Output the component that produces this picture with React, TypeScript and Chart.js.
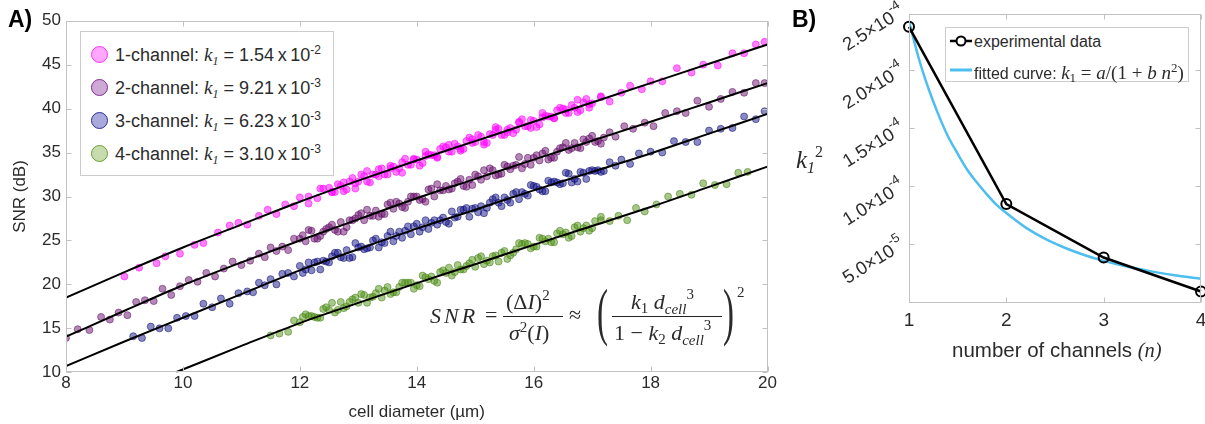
import React, { useEffect, useRef } from 'react';
import { Chart, registerables } from 'chart.js';
Chart.register(...registerables);

// ================= Panel A data: SNR (dB) vs cell diameter (µm) =================
const seriesNames = ['1-channel', '2-channel', '3-channel', '4-channel'];
const k1Mantissa = ['1.54', '9.21', '6.23', '3.10'];
const k1Exponent = ['-2', '-3', '-3', '-3'];

const ch1X = [9.0, 9.25, 9.55, 9.7, 9.95, 10.2, 10.35, 10.6, 10.8, 10.95, 11.1, 11.3, 11.45, 11.6, 11.75, 11.9, 12.0, 12.15, 12.3, 12.4,
  12.5, 12.6, 12.7, 12.8, 12.9, 13.0, 13.1, 13.2, 13.3, 13.4, 13.5, 13.6, 13.7, 13.8, 13.9, 14.0, 14.1, 14.2, 14.3, 14.4,
  14.5, 14.6, 14.7, 14.8, 14.9, 15.0, 15.1, 15.2, 15.3, 15.4, 15.5, 15.6, 15.7, 15.8, 15.9, 16.0, 16.1, 16.2, 16.3, 16.4,
  16.5, 16.6, 16.7, 16.8, 16.9, 17.0,
  17.15, 17.3, 17.5, 17.65, 17.85, 18.0, 18.2, 18.45, 18.7, 18.9, 19.15, 19.4, 19.6, 19.8, 19.95];
const ch1Y = [20.9, 21.9, 22.4, 23.2, 23.5, 24.5, 24.7, 25.9, 26.7, 27.0, 26.8, 27.8, 28.5, 28.0, 29.1, 28.9, 29.9, 30.0, 29.8, 30.9,
  31.0, 30.5, 31.2, 30.8, 32.1, 31.7, 32.3, 31.6, 32.5, 33.2, 32.5, 33.4, 33.2, 34.3, 33.6, 34.2, 33.8, 34.8, 34.7, 35.4,
  35.6, 35.1, 35.7, 35.4, 36.7, 36.2, 36.8, 36.1, 37.0, 37.7, 37.0, 37.8, 37.6, 38.8, 38.0, 38.6, 38.2, 39.2, 39.1, 39.8,
  40.0, 39.5, 40.1, 39.8, 41.1, 40.6,
  41.3, 40.8, 41.8, 42.6, 42.2, 43.1, 43.1, 44.6, 44.1, 45.0, 44.9, 46.3, 46.3, 47.3, 47.6];
const ch1XB = [12.55, 12.65, 12.75, 12.85, 12.95, 13.05, 13.15, 13.25, 13.35, 13.45, 13.55, 13.65, 13.75, 13.85, 13.95,
  14.05, 14.15, 14.25, 14.35, 14.45, 14.55, 14.65, 14.75, 14.85, 14.95, 15.05, 15.15, 15.25, 15.35, 15.45,
  15.55, 15.65, 15.75, 15.85, 15.95, 16.05, 16.15, 16.25, 16.35, 16.45, 16.55, 16.65, 16.75, 16.85, 16.95];
const ch1YB = [30.5, 31.4, 30.6, 31.7, 31.5, 32.5, 31.7, 32.5, 33.1, 32.5, 33.2, 32.8, 33.9, 33.6, 34.3,
  33.5, 34.6, 34.7, 34.5, 35.7, 35.1, 36.0, 35.2, 36.3, 36.1, 37.0, 36.2, 37.1, 37.6, 37.0,
  37.6, 37.2, 38.4, 38.0, 38.7, 37.9, 39.0, 39.1, 38.9, 40.1, 39.5, 40.4, 39.6, 40.7, 40.5];

// third pass of readings through the dense middle of every band
const denseXC = [12.15, 12.35, 12.55, 12.75, 12.95, 13.15, 13.35, 13.55, 13.75, 13.95, 14.15, 14.35, 14.55, 14.75, 14.95,
  15.15, 15.35, 15.55, 15.75, 15.95, 16.15, 16.35, 16.55, 16.75, 16.95, 17.15];
const ch1YC = [29.2, 30.9, 30.5, 31.6, 30.9, 32.9, 32.3, 33.5, 32.7, 34.2, 35.1, 34.4, 35.9, 35.4, 36.5,
  35.9, 37.9, 37.3, 38.5, 37.8, 39.5, 38.9, 39.9, 41.0, 40.1, 41.4];

const ch2X = [8.0, 8.2, 8.4, 8.6, 8.75, 8.9, 9.05, 9.2, 9.35, 9.5, 9.65, 9.8, 9.95, 10.1, 10.25, 10.4, 10.55, 10.7, 10.85, 11.0, 11.15, 11.3,
  11.4, 11.5, 11.6, 11.7, 11.8, 11.9, 12.0, 12.1, 12.2, 12.3, 12.4, 12.5, 12.6, 12.7, 12.8, 12.9,
  13.0, 13.1, 13.2, 13.3, 13.4, 13.5, 13.6, 13.7, 13.8, 13.9, 14.0, 14.1, 14.2, 14.3, 14.4, 14.5, 14.6, 14.7, 14.8, 14.9,
  15.0, 15.1, 15.2, 15.3, 15.4, 15.5, 15.6, 15.7, 15.8, 15.9, 16.0, 16.1, 16.2, 16.3, 16.4, 16.5, 16.6, 16.7, 16.8, 16.9,
  17.0, 17.1, 17.2, 17.3, 17.4,
  17.55, 17.7, 17.9, 18.05, 18.25, 18.45, 18.6, 18.8, 19.0, 19.2, 19.4, 19.6, 19.8, 19.95];
const ch2Y = [13.9, 14.9, 14.8, 16.3, 16.0, 16.8, 16.5, 18.0, 18.2, 18.1, 19.5, 18.8, 19.8, 20.5, 20.3, 21.3, 20.9, 21.8, 22.6, 22.2, 22.7, 23.5,
  23.1, 24.2, 23.8, 24.3, 23.9, 25.2, 25.2, 24.9, 26.1, 25.2, 26.0, 26.5, 26.2, 27.1, 26.5, 27.3,
  27.9, 27.3, 27.8, 28.4, 28.0, 29.1, 28.6, 29.2, 28.7, 30.0, 30.0, 29.7, 30.8, 30.0, 30.7, 31.2, 30.9, 31.7, 31.2, 31.9,
  32.5, 31.9, 32.3, 33.0, 32.5, 33.6, 33.1, 33.6, 33.2, 34.4, 34.4, 34.1, 35.2, 34.4, 35.1, 35.6, 35.3, 36.1, 35.5, 36.2,
  36.9, 36.3, 36.7, 37.3, 36.8,
  38.0, 37.7, 38.4, 38.0, 39.5, 39.7, 39.5, 40.9, 40.2, 41.1, 41.9, 41.8, 42.9, 42.9];
const denseXB = [12.05, 12.25, 12.45, 12.65, 12.85, 13.05, 13.25, 13.45, 13.65, 13.85, 14.05, 14.25, 14.45, 14.65, 14.85,
  15.05, 15.25, 15.45, 15.65, 15.85, 16.05, 16.25, 16.45, 16.65, 16.85, 17.05];
const ch2YB = [25.6, 25.2, 26.3, 26.0, 27.3, 28.1, 27.8, 28.0, 29.4, 29.4, 29.6, 30.9, 30.7, 31.5, 31.1,
  32.3, 33.2, 32.6, 33.5, 33.7, 34.7, 34.2, 35.5, 35.5, 36.5, 36.2];
const ch2YC = [26.2, 25.5, 26.8, 26.0, 27.5, 28.5, 27.7, 29.3, 28.8, 30.0, 29.4, 31.4, 30.8, 32.0, 31.3,
  33.0, 32.4, 33.4, 34.5, 33.6, 34.9, 34.4, 36.1, 35.6, 36.6, 36.0];

const ch3X = [9.15, 9.3, 9.45, 9.6, 9.75, 9.9, 10.05, 10.2, 10.35, 10.5, 10.65, 10.8, 10.95,
  11.1, 11.2, 11.3, 11.4, 11.5, 11.6, 11.7, 11.8, 11.9,
  12.0, 12.1, 12.2, 12.3, 12.4, 12.5, 12.6, 12.7, 12.8, 12.9, 13.0, 13.1, 13.2, 13.3, 13.4, 13.5, 13.6, 13.7, 13.8, 13.9,
  14.0, 14.1, 14.2, 14.3, 14.4, 14.5, 14.6, 14.7, 14.8, 14.9, 15.0, 15.1, 15.2, 15.3, 15.4, 15.5, 15.6, 15.7, 15.8, 15.9,
  16.0, 16.1, 16.2, 16.3, 16.4, 16.5, 16.6, 16.7, 16.8, 16.9, 17.0, 17.1, 17.2, 17.3, 17.4, 17.5,
  17.65, 17.8, 18.0, 18.2, 18.4, 18.6, 18.8, 19.0, 19.2, 19.4, 19.6, 19.8, 19.95];
const ch3Y = [14.1, 13.9, 15.2, 15.0, 15.0, 16.2, 16.4, 16.4, 17.8, 17.4, 18.4, 17.8, 19.0,
  19.2, 19.1, 20.2, 19.9, 20.6, 20.0, 21.2, 21.3, 20.9,
  22.1, 21.7, 21.6, 22.6, 22.7, 22.5, 23.6, 23.1, 23.9, 23.1, 24.2, 24.0, 24.2, 25.2, 24.8, 25.5, 24.9, 26.0, 26.1, 25.7,
  26.9, 26.5, 26.3, 27.3, 27.3, 27.1, 28.3, 27.7, 28.5, 27.7, 28.7, 28.9, 28.7, 29.7, 29.3, 29.9, 29.3, 30.5, 30.5, 30.1,
  31.2, 30.8, 30.6, 31.6, 31.6, 31.5, 32.6, 32.0, 32.8, 32.0, 33.0, 33.0, 32.9, 33.9, 33.5, 34.2,
  33.7, 34.9, 35.1, 35.0, 36.3, 36.2, 36.2, 37.5, 37.7, 37.8, 39.1, 38.8, 39.7];
const ch3YB = [21.3, 22.5, 22.6, 23.6, 23.0, 24.3, 25.0, 24.7, 25.5, 26.6, 26.0, 27.0, 27.6, 27.6, 28.7,
  28.2, 29.3, 28.9, 30.3, 30.3, 31.1, 31.8, 31.4, 31.6, 32.7, 32.9];
const ch3YC = [22.5, 21.7, 23.2, 23.0, 24.7, 24.1, 24.2, 26.0, 25.3, 26.6, 27.3, 26.8, 26.9, 28.5, 28.6,
  28.1, 29.9, 29.6, 29.7, 31.3, 30.6, 31.7, 32.7, 31.7, 32.9, 32.8];

const ch4X = [11.5, 11.65, 11.8, 11.9,
  12.0, 12.1, 12.2, 12.3, 12.4, 12.5, 12.6, 12.7, 12.8, 12.9, 13.0, 13.1, 13.2, 13.3, 13.4, 13.5, 13.6, 13.7, 13.8, 13.9,
  14.0, 14.1, 14.2, 14.3, 14.4, 14.5, 14.6, 14.7, 14.8, 14.9, 15.0, 15.1, 15.2, 15.3, 15.4, 15.5, 15.6, 15.7, 15.8, 15.9,
  16.0, 16.1, 16.2, 16.3, 16.4, 16.5, 16.6, 16.7, 16.8, 16.9, 17.0,
  17.15, 17.3, 17.45, 17.6, 17.75, 17.9, 18.1, 18.3, 18.5, 18.7, 18.9, 19.1, 19.3, 19.5, 19.66];
const ch4Y = [14.2, 14.4, 14.6, 15.9,
  15.7, 16.6, 16.4, 16.2, 17.2, 17.1, 16.8, 18.0, 17.5, 18.3, 17.9, 18.8, 18.5, 19.0, 18.5, 19.7, 19.1, 19.7, 20.2, 20.2,
  19.9, 21.0, 20.6, 20.4, 21.4, 21.3, 21.0, 22.2, 21.7, 22.4, 22.0, 23.2, 22.7, 23.2, 22.6, 23.8, 23.3, 24.0, 24.6, 24.6,
  24.3, 25.3, 24.9, 24.8, 25.8, 25.7, 25.3, 26.5, 26.0, 26.7, 26.4,
  27.7, 27.2, 27.8, 27.3, 28.7, 28.3, 29.1, 30.0, 30.3, 30.2, 31.5, 31.3, 31.4, 32.7, 32.8];
const ch4YB = [16.3, 16.3, 17.4, 17.1, 18.0, 18.9, 18.6, 19.3, 19.1, 20.2, 19.8, 20.9, 21.6, 21.4, 22.1,
  23.0, 22.5, 23.6, 23.6, 24.7, 24.3, 25.2, 26.1, 25.5, 26.4, 27.2];
const ch4YC = [16.4, 16.2, 17.9, 17.3, 18.5, 17.9, 19.5, 18.9, 20.2, 19.5, 20.8, 20.2, 21.9, 21.7, 22.8,
  22.3, 23.3, 22.9, 24.7, 24.1, 25.2, 24.8, 25.9, 26.7, 26.1, 27.3];

// fitted model curves (black lines)
const fitX = [8, 9, 10, 11, 12, 13, 14, 15, 16, 17, 18, 19, 20];
const fit1Y = [18.5, 21.4, 24.2, 26.8, 29.4, 31.8, 34.1, 36.3, 38.5, 40.7, 42.9, 45.1, 47.3];
const fit2Y = [14.05, 17.0, 19.9, 22.5, 25.0, 27.4, 29.8, 32.0, 34.2, 36.35, 38.5, 40.7, 42.9];
const fit3Y = [10.7, 13.5, 16.2, 18.9, 21.6, 24.0, 26.35, 28.5, 30.7, 32.8, 34.9, 37.15, 39.4];
const fit4X = [9.88, 11, 12, 13, 14, 15, 16, 17, 18, 19, 20];
const fit4Y = [10.0, 13.0, 15.6, 17.9, 20.15, 22.3, 24.5, 26.65, 28.8, 31.1, 33.4];

// ================= Panel B data: k1^2 vs number of channels =================
const expN = [1, 2, 3, 4];
const expK = [2.37e-4, 8.48e-5, 3.88e-5, 9.6e-6];
const curveN = [1.0, 1.1, 1.2, 1.3, 1.4, 1.5, 1.6, 1.7, 1.8, 1.9, 2.0, 2.2, 2.4, 2.6, 2.8, 3.0, 3.25, 3.5, 3.75, 4.0];
const curveK = [2.42e-4, 2.10e-4, 1.84e-4, 1.62e-4, 1.43e-4, 1.28e-4, 1.14e-4, 1.03e-4, 0.93e-4, 0.84e-4, 0.77e-4,
  0.645e-4, 0.548e-4, 0.472e-4, 0.41e-4, 0.359e-4, 0.308e-4, 0.267e-4, 0.233e-4, 0.206e-4];
const bYTickVals = [5e-5, 1e-4, 1.5e-4, 2e-4, 2.5e-4];
const bYTickMant = ['5.0', '1.0', '1.5', '2.0', '2.5'];
const bYTickExp = ['-5', '-4', '-4', '-4', '-4'];

// ================= styles =================
const SANS = '"Liberation Sans", Arial, Helvetica, sans-serif';
const SERIF = '"Liberation Serif", "Times New Roman", serif';
const TEXT = '#2b2b2b';
const FRAME = '#c2c2c2';
const dotFill = ['rgba(255,0,255,0.5)', 'rgba(105,15,110,0.5)', 'rgba(20,20,135,0.5)', 'rgba(80,145,20,0.5)'];
const dotEdge = ['rgba(255,0,255,0.65)', 'rgba(95,10,100,0.65)', 'rgba(10,10,115,0.65)', 'rgba(65,125,15,0.65)'];
const legFill = ['#ffa6ff', '#cfa9d6', '#a9a9dc', '#c6dcae'];
const legEdge = ['#ff33ff', '#7e2f8e', '#2e2e9e', '#6aa030'];

const zip = (xs: number[], ys: number[]) => xs.map((x, i) => ({ x, y: ys[i] }));

function frameTicks(yValsOverride?: number[]) {
  return {
    id: 'frameTicks',
    afterDraw(chart: any) {
      const { ctx, chartArea: a, scales } = chart;
      const L = Math.round(a.left) + 0.5, R = Math.round(a.right) - 0.5;
      const T = Math.round(a.top) + 0.5, B = Math.round(a.bottom) - 0.5;
      ctx.save();
      ctx.strokeStyle = FRAME;
      ctx.lineWidth = 1;
      ctx.strokeRect(L, T, R - L, B - T);
      const len = 5;
      ctx.beginPath();
      scales.x.ticks.forEach((t: any) => {
        const px = Math.round(scales.x.getPixelForValue(t.value)) + 0.5;
        ctx.moveTo(px, B); ctx.lineTo(px, B - len);
        ctx.moveTo(px, T); ctx.lineTo(px, T + len);
      });
      const yv = yValsOverride || scales.y.ticks.map((t: any) => t.value);
      yv.forEach((v: number) => {
        const py = Math.round(scales.y.getPixelForValue(v)) + 0.5;
        if (py < T - 1) return;
        ctx.moveTo(L, py); ctx.lineTo(L + len, py);
        ctx.moveTo(R, py); ctx.lineTo(R - len, py);
      });
      ctx.stroke();
      ctx.restore();
    },
  };
}

const rotatedYLabels = {
  id: 'rotatedYLabels',
  afterDraw(chart: any) {
    const { ctx, chartArea: a, scales } = chart;
    ctx.save();
    ctx.fillStyle = TEXT;
    bYTickVals.forEach((v, i) => {
      const py = scales.y.getPixelForValue(v);
      ctx.save();
      ctx.translate(a.left - 6, py - 1);
      ctx.rotate((-32 * Math.PI) / 180);
      ctx.textAlign = 'right';
      ctx.textBaseline = 'middle';
      ctx.font = `13px ${SANS}`;
      const ew = ctx.measureText(bYTickExp[i]).width;
      ctx.fillText(bYTickExp[i], 0, -8);
      ctx.font = `18.5px ${SANS}`;
      ctx.fillText(bYTickMant[i] + '\u00d710', -ew, 0);
      ctx.restore();
    });
    ctx.restore();
  },
};

const Sup = ({ children, size, raise }: any) => (
  <span style={{ fontSize: size, verticalAlign: raise, lineHeight: 0 }}>{children}</span>
);
const It = ({ children }: any) => <span style={{ fontStyle: 'italic' }}>{children}</span>;

const At = ({ x, base, size, family, children, style }: any) => (
  <div
    style={{
      position: 'absolute', left: x, top: base - 0.84 * size, fontSize: size, lineHeight: 1,
      fontFamily: family, color: TEXT, whiteSpace: 'nowrap', ...(style || {}),
    }}
  >
    {children}
  </div>
);

export default function App() {
  const refA = useRef<HTMLCanvasElement>(null);
  const refB = useRef<HTMLCanvasElement>(null);

  useEffect(() => {
    const scatterSets = [
      [...zip(ch1X, ch1Y), ...zip(ch1XB, ch1YB), ...zip(denseXC, ch1YC)],
      [...zip(ch2X, ch2Y), ...zip(denseXB, ch2YB), ...zip(denseXC, ch2YC)],
      [...zip(ch3X, ch3Y), ...zip(denseXB, ch3YB), ...zip(denseXC, ch3YC)],
      [...zip(ch4X, ch4Y), ...zip(denseXB, ch4YB), ...zip(denseXC, ch4YC)],
    ];
    const fits = [zip(fitX, fit1Y), zip(fitX, fit2Y), zip(fitX, fit3Y), zip(fit4X, fit4Y)];
    const dsA: any[] = [];
    fits.forEach((d, i) =>
      dsA.push({
        label: 'fit ' + seriesNames[i], data: d, showLine: true, borderColor: '#000', borderWidth: 2,
        pointRadius: 0, cubicInterpolationMode: 'monotone', order: 0,
      })
    );
    scatterSets.forEach((d, i) =>
      dsA.push({
        label: seriesNames[i], data: d, showLine: false, pointRadius: 3.5,
        pointBackgroundColor: dotFill[i], pointBorderColor: dotEdge[i], pointBorderWidth: 0.8, order: 1 + i,
      })
    );

    const chartA = new Chart(refA.current as HTMLCanvasElement, {
      type: 'scatter',
      data: { datasets: dsA },
      options: {
        animation: false, responsive: false, events: [],
        layout: { padding: { left: 0, right: 32.5, top: 20.7, bottom: 0 } },
        plugins: { legend: { display: false }, tooltip: { enabled: false } },
        scales: {
          x: {
            type: 'linear', min: 8, max: 20,
            ticks: { stepSize: 2, color: TEXT, font: { family: SANS, size: 17 }, padding: 1, maxRotation: 0, autoSkip: false },
            grid: { display: false, drawTicks: false }, border: { display: false },
            title: { display: true, text: 'cell diameter (µm)', color: TEXT, font: { family: SANS, size: 17 }, padding: { top: 0, bottom: 1 } },
            afterFit: (s: any) => { s.height = 51.7; },
          },
          y: {
            type: 'linear', min: 10, max: 50,
            ticks: { stepSize: 5, color: TEXT, font: { family: SANS, size: 17 }, padding: 5 },
            grid: { display: false, drawTicks: false }, border: { display: false },
            title: { display: true, text: 'SNR (dB)', color: TEXT, font: { family: SANS, size: 17 }, padding: { top: 10, bottom: 0 } },
            afterFit: (s: any) => { s.width = 66; },
          },
        },
      } as any,
      plugins: [frameTicks()],
    });

    const chartB = new Chart(refB.current as HTMLCanvasElement, {
      type: 'scatter',
      data: {
        datasets: [
          {
            label: 'experimental data', data: zip(expN, expK), showLine: true, borderColor: '#000', borderWidth: 2.5,
            pointRadius: 5, pointBorderWidth: 2, pointBorderColor: '#000', pointBackgroundColor: 'rgba(0,0,0,0)',
            order: 0, clip: false,
          },
          {
            label: 'fitted curve', data: zip(curveN, curveK), showLine: true, borderColor: '#4DBEEE', borderWidth: 2.5,
            pointRadius: 0, cubicInterpolationMode: 'monotone', order: 1,
          },
        ] as any,
      },
      options: {
        animation: false, responsive: false, events: [],
        layout: { padding: { left: 0, right: 24, top: 14, bottom: 0 } },
        plugins: { legend: { display: false }, tooltip: { enabled: false } },
        scales: {
          x: {
            type: 'linear', min: 1, max: 4,
            ticks: { stepSize: 1, color: TEXT, font: { family: SANS, size: 19 }, padding: 7, maxRotation: 0, autoSkip: false },
            grid: { display: false, drawTicks: false }, border: { display: false },
            afterFit: (s: any) => { s.height = 121.3; },
          },
          y: {
            type: 'linear', min: 0, max: 2.48e-4,
            ticks: { display: false, stepSize: 5e-5 },
            grid: { display: false, drawTicks: false }, border: { display: false },
            afterFit: (s: any) => { s.width = 89; },
          },
        },
      } as any,
      plugins: [frameTicks(bYTickVals), rotatedYLabels],
    });

    return () => { chartA.destroy(); chartB.destroy(); };
  }, []);

  const rowY = [54, 87, 120, 153];
  const fs = 22;
  const paren = { transform: 'scale(0.55, 1.05)', transformOrigin: 'left bottom' };

  return (
    <div style={{ position: 'fixed', left: 0, top: 0, width: 1205, height: 424, background: '#fff', overflow: 'hidden' }}>
      <canvas ref={refA} width={800} height={424} style={{ position: 'absolute', left: 0, top: 0, display: 'block' }} />
      <canvas ref={refB} width={405} height={424} style={{ position: 'absolute', left: 820, top: 0, display: 'block' }} />

      {/* panel labels */}
      <At x={8} base={27} size={23} family={SANS} style={{ fontWeight: 'bold', color: '#000' }}>A)</At>
      <At x={792} base={27} size={23} family={SANS} style={{ fontWeight: 'bold', color: '#000' }}>B)</At>

      {/* legend A */}
      <div style={{ position: 'absolute', left: 80, top: 31, width: 254, height: 145, border: '1px solid #cccccc', background: '#fff', boxSizing: 'border-box' }} />
      {seriesNames.map((n, i) => (
        <React.Fragment key={n}>
          <div style={{ position: 'absolute', left: 99 - 8.5, top: rowY[i] - 8.5, width: 17, height: 17, borderRadius: '50%', background: legFill[i], border: `1px solid ${legEdge[i]}`, boxSizing: 'border-box' }} />
          <At x={115} base={rowY[i] + 6.5} size={18} family={SANS}>
            {n + ': '}
            <span style={{ fontFamily: SERIF, fontStyle: 'italic', fontSize: 19 }}>k<Sup size={12} raise={-4}>1</Sup></span>
            {' = ' + k1Mantissa[i] + '\u2009x\u200910'}
            <Sup size={12} raise={7}>{k1Exponent[i]}</Sup>
          </At>
        </React.Fragment>
      ))}

      {/* formula */}
      <At x={430} base={323} size={fs} family={SERIF} style={{ letterSpacing: 3 }}><It>SNR</It></At>
      <At x={485} base={322} size={fs} family={SERIF}>=</At>
      <At x={506} base={309} size={fs} family={SERIF}>(Δ<It>I</It>)<Sup size={15} raise={9}>2</Sup></At>
      <div style={{ position: 'absolute', left: 503, top: 316, width: 60, height: 1.2, background: '#222' }} />
      <At x={509} base={340} size={fs} family={SERIF}><It>σ</It><Sup size={15} raise={8}>2</Sup>(<It>I</It>)</At>
      <At x={569} base={322} size={fs} family={SERIF}>≈</At>
      <At x={597} base={334} size={60} family={SERIF} style={paren}>(</At>
      <At x={631} base={309} size={fs} family={SERIF}>
        <It>k</It><Sup size={15} raise={-4}>1</Sup>{' '}<It>d</It><Sup size={15} raise={-5}><It>cell</It></Sup><Sup size={15} raise={10}>3</Sup>
      </At>
      <div style={{ position: 'absolute', left: 612, top: 316, width: 110, height: 1.2, background: '#222' }} />
      <At x={614} base={340} size={fs} family={SERIF}>
        1 − <It>k</It><Sup size={15} raise={-4}>2</Sup>{' '}<It>d</It><Sup size={15} raise={-5}><It>cell</It></Sup><Sup size={15} raise={10}>3</Sup>
      </At>
      <At x={723} base={334} size={60} family={SERIF} style={paren}>)</At>
      <At x={737} base={298} size={15} family={SERIF}>2</At>

      {/* Panel B axis titles */}
      <At x={796} base={168} size={25} family={SERIF}>
        <It>k</It><Sup size={16} raise={-5}><It>1</It></Sup><Sup size={16} raise={11}>2</Sup>
      </At>
      <At x={952} base={357} size={20.5} family={SANS}>
        number of channels <span style={{ fontFamily: SERIF, fontStyle: 'italic' }}>(n)</span>
      </At>

      {/* legend B */}
      <div style={{ position: 'absolute', left: 945, top: 27, width: 244, height: 55, border: '1px solid #cccccc', background: '#fff', boxSizing: 'border-box' }} />
      <svg width={30} height={60} style={{ position: 'absolute', left: 947, top: 26 }}>
        <line x1={3} y1={15} x2={25} y2={15} stroke="#000" strokeWidth={2.5} />
        <circle cx={14} cy={15} r={4.5} fill="#fff" stroke="#000" strokeWidth={2} />
        <line x1={3} y1={44} x2={25} y2={44} stroke="#4DBEEE" strokeWidth={3} />
      </svg>
      <At x={974} base={47} size={16} family={SANS}>experimental data</At>
      <At x={974} base={76} size={16} family={SANS}>
        fitted curve:{' '}
        <span style={{ fontFamily: SERIF, fontSize: 19 }}>
          <It>k</It><Sup size={13} raise={-3}>1</Sup> = <It>a</It>/(1 + <It>b</It> <It>n</It><Sup size={13} raise={7}>2</Sup>)
        </span>
      </At>
    </div>
  );
}
